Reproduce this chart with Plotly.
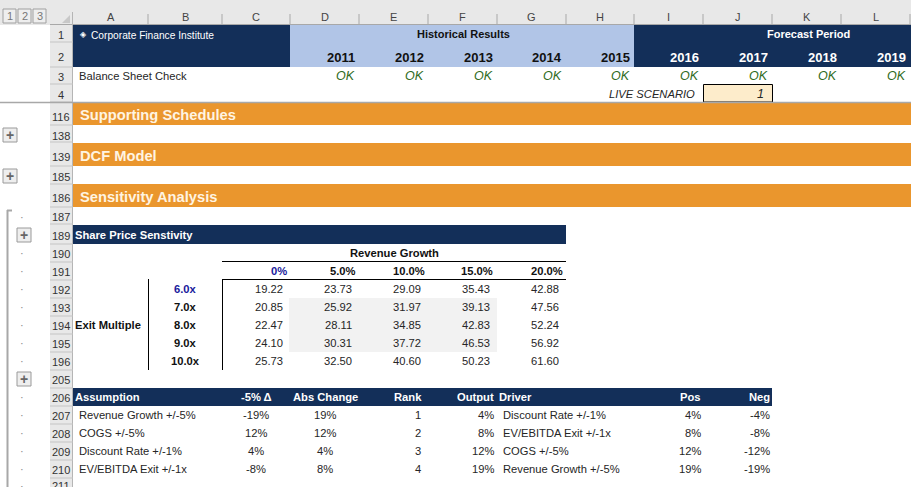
import plotly.graph_objects as go

# ---- sheet content ------------------------------------------------------- #
column_letters = ["A", "B", "C", "D", "E", "F", "G", "H", "I", "J", "K", "L"]
hist_years = ["2011", "2012", "2013", "2014", "2015"]
fcst_years = ["2016", "2017", "2018", "2019"]
check_values = ["OK"] * 9
row_numbers = ["1", "2", "3", "4", "116", "138", "139", "185", "186", "187", "189", "190", "191",
               "192", "193", "194", "195", "196", "205", "206", "207", "208", "209", "210", "211"]
section_titles = ["Supporting Schedules", "DCF Model", "Sensitivity Analysis"]

growth_labels = ["0%", "5.0%", "10.0%", "15.0%", "20.0%"]
multiple_labels = ["6.0x", "7.0x", "8.0x", "9.0x", "10.0x"]
share_prices = [
    ["19.22", "23.73", "29.09", "35.43", "42.88"],
    ["20.85", "25.92", "31.97", "39.13", "47.56"],
    ["22.47", "28.11", "34.85", "42.83", "52.24"],
    ["24.10", "30.31", "37.72", "46.53", "56.92"],
    ["25.73", "32.50", "40.60", "50.23", "61.60"],
]

tornado_headers = ["-5% Δ", "Abs Change", "Rank", "Output"]
assumptions = ["Revenue Growth +/-5%", "COGS +/-5%", "Discount Rate +/-1%", "EV/EBITDA Exit +/-1x"]
minus5_delta = ["-19%", "12%", "4%", "-8%"]
abs_change = ["19%", "12%", "4%", "8%"]
rank = ["1", "2", "3", "4"]
output = ["4%", "8%", "12%", "19%"]
drivers = ["Discount Rate +/-1%", "EV/EBITDA Exit +/-1x", "COGS +/-5%", "Revenue Growth +/-5%"]
pos = ["4%", "8%", "12%", "19%"]
neg = ["-4%", "-8%", "-12%", "-19%"]

# ---- sheet geometry (screen pixels) -------------------------------------- #
COL_EDGES = [73, 148, 222, 290, 359, 428, 497, 566, 634, 703, 772, 841, 910]
ROW_SEPARATORS = [42, 67, 84, 102, 125, 142, 166, 184, 207, 224, 244, 262, 280,
                  298, 316, 334, 352, 370, 388, 406, 424, 442, 460, 478]
ROW_LABEL_Y = [35, 57, 77, 95, 117, 136, 157, 177, 198, 217, 236, 254, 272,
               290, 308, 326, 344, 362, 380, 398, 416, 434, 452, 470, 486]
NAVY = "#132f59"
BLUE = "#b1c5e7"
ORANGE = "#ea962d"
HEAD = "#e8e8e8"
FONT = "Liberation Sans"
BODY = 11.2
BOLD = 11.2

fig = go.Figure()


def rect(x0, y0, x1, y1, fill, line=None):
    fig.add_shape(type="rect", x0=x0, y0=y0, x1=x1, y1=y1, fillcolor=fill,
                  line=dict(width=1 if line else 0, color=line or fill), layer="below")


def hline(x0, x1, y, color="black", width=1):
    fig.add_shape(type="line", x0=x0, x1=x1, y0=y, y1=y, line=dict(color=color, width=width))


def vline(x, y0, y1, color="black", width=1):
    fig.add_shape(type="line", x0=x, x1=x, y0=y0, y1=y1, line=dict(color=color, width=width))


def text(x, y, s, anchor="right", size=BODY, bold=False, color="#262626", italic=False, family=FONT):
    s = f"<b>{s}</b>" if bold else s
    s = f"<i>{s}</i>" if italic else s
    fig.add_annotation(x=x, y=y, text=s, xanchor=anchor, yanchor="middle", showarrow=False,
                       font=dict(family=family, size=size, color=color),
                       xref="x", yref="y", borderpad=0, borderwidth=0, align=anchor)


def outline_button(x, y, label):
    rect(x - 7, y - 7, x + 7, y + 7, "#eeeeee", "#9a9a9a")
    text(x, y, label, "center", 14, bold=True, color="#666666")


# ---- headers ------------------------------------------------------------- #
rect(0, 0, 911, 25, HEAD)
rect(50, 25, 73, 487, HEAD)
hline(50, 911, 24.5, "#a8a8a8")
vline(72.5, 12, 487, "#b5b5b5")
fig.add_shape(type="path", path="M 70 15 L 70 23 L 62 23 Z", fillcolor="#c8c8c8", line=dict(width=0))
for edge in COL_EDGES[1:]:
    vline(edge, 14, 24, "#a8a8a8")
for left, right, letter in zip(COL_EDGES[:-1], COL_EDGES[1:], column_letters):
    text((left + right) / 2, 17, letter, "center", 11, color="#444444")
for y in ROW_SEPARATORS:
    hline(50, 73, y, "#c4c4c4")
for y, label in zip(ROW_LABEL_Y, row_numbers):
    text(61, y, label, "center", 11, color="#333333")

# outline levels
for i, label in enumerate(["1", "2", "3"]):
    rect(3 + i * 15, 9, 16 + i * 15, 23, "#eeeeee", "#a0a0a0")
    text(9.5 + i * 15, 16, label, "center", 11, color="#777777")
for y in (135, 176):
    outline_button(10, y, "+")
for y in (235, 379):
    outline_button(24, y, "+")
vline(7.5, 210, 487, "#a8a8a8", 2)
hline(7, 12, 210.5, "#a8a8a8", 2)
for y in [217, 253, 271, 289, 307, 325, 343, 361, 397, 415, 433, 451, 469, 486]:
    text(22, y, "·", "center", 11, color="#888888")

# ---- title band ---------------------------------------------------------- #
rect(73, 25, 290, 67, NAVY)
rect(290, 25, 634, 67, BLUE)
rect(634, 25, 911, 67, NAVY)
text(83, 34, "◈", "center", 8, color="white", family="DejaVu Sans")
text(90.5, 35, "Corporate Finance Institute", "left", 10.2, color="white")
text(463, 34, "Historical Results", "center", 11, bold=True, color="#111111")
text(808, 34, "Forecast Period", "center", 11, bold=True, color="white")
for edge, year in zip(COL_EDGES[4:9], hist_years):
    text(edge - 4, 57, year, size=13, bold=True, color="#111111")
for edge, year in zip(COL_EDGES[9:], fcst_years):
    text(edge - 4, 57, year, size=13, bold=True, color="white")

text(79, 76, "Balance Sheet Check", "left")
for edge, ok in zip(COL_EDGES[4:], check_values):
    text(edge - 4, 76, ok, size=12.5, italic=True, color="#2f6b22")
text(695, 94, "LIVE SCENARIO", italic=True)
rect(703.5, 84.5, 772.5, 102, "#fdeccb", "black")
text(764, 94, "1", size=12.5, italic=True)

hline(0, 911, 102.5, "#a8a8a8", 1.5)
for top, bottom, title in zip([103, 143, 184], [125, 166, 207], section_titles):
    rect(73, top, 911, bottom, ORANGE)
    text(80, (top + bottom) / 2 + 1, title, "left", 14.7, bold=True, color="#fff4e2")

# ---- share price grid ---------------------------------------------------- #
rect(73, 225, 566, 244, NAVY)
text(75, 235, "Share Price Senstivity", "left", BOLD, bold=True, color="white")
text(394, 253, "Revenue Growth", "center", BOLD, bold=True, color="#111111")
hline(222, 566, 261.5)
hline(222, 566, 279.5)
vline(148.5, 279, 370)
vline(222.5, 279, 370)
rect(289, 298, 497, 352, "#f2f2f2")
GRID_RIGHT = [287, 356, 425, 493, 563]
for right, label in zip(GRID_RIGHT, growth_labels):
    text(right, 271, label, size=BOLD, bold=True,
         color="#1a1a9c" if label == "0%" else "#111111")
ROW_CENTERS = [289, 307, 325, 343, 361]
for y, mult, prices in zip(ROW_CENTERS, multiple_labels, share_prices):
    text(185, y, mult, "center", BOLD, bold=True, color="#1a1a9c" if mult == "6.0x" else "#111111")
    for right, price in zip([283, 352, 421, 490, 559], prices):
        text(right, y, price)
text(75, 325, "Exit Multiple", "left", BOLD, bold=True, color="#111111")

# ---- tornado table ------------------------------------------------------- #
rect(73, 388, 772, 406, NAVY)
text(75, 397, "Assumption", "left", BOLD, bold=True, color="white")
for x, label in zip([256, 325, 408, 494], tornado_headers):
    anchor = "right" if label == "Output" else "center"
    text(x, 397, label, anchor, BOLD, bold=True, color="white")
text(499, 397, "Driver", "left", BOLD, bold=True, color="white")
text(701, 397, "Pos", size=BOLD, bold=True, color="white")
text(770, 397, "Neg", size=BOLD, bold=True, color="white")
TABLE_CENTERS = [415, 433, 451, 469]
for i, y in enumerate(TABLE_CENTERS):
    text(79, y, assumptions[i], "left")
    text(256, y, minus5_delta[i], "center")
    text(325, y, abs_change[i], "center")
    text(418, y, rank[i], "center")
    text(494, y, output[i])
    text(503, y, drivers[i], "left")
    text(701, y, pos[i])
    text(770, y, neg[i])

fig.update_layout(
    width=911, height=487, margin=dict(l=0, r=0, t=0, b=0),
    paper_bgcolor="white", plot_bgcolor="white", showlegend=False,
    xaxis=dict(range=[0, 911], visible=False, fixedrange=True),
    yaxis=dict(range=[487, 0], visible=False, fixedrange=True),
)
fig.write_html("out.html", config={"displayModeBar": False},
               post_script="document.body.style.margin = '0'; document.body.style.overflow = 'hidden';")
